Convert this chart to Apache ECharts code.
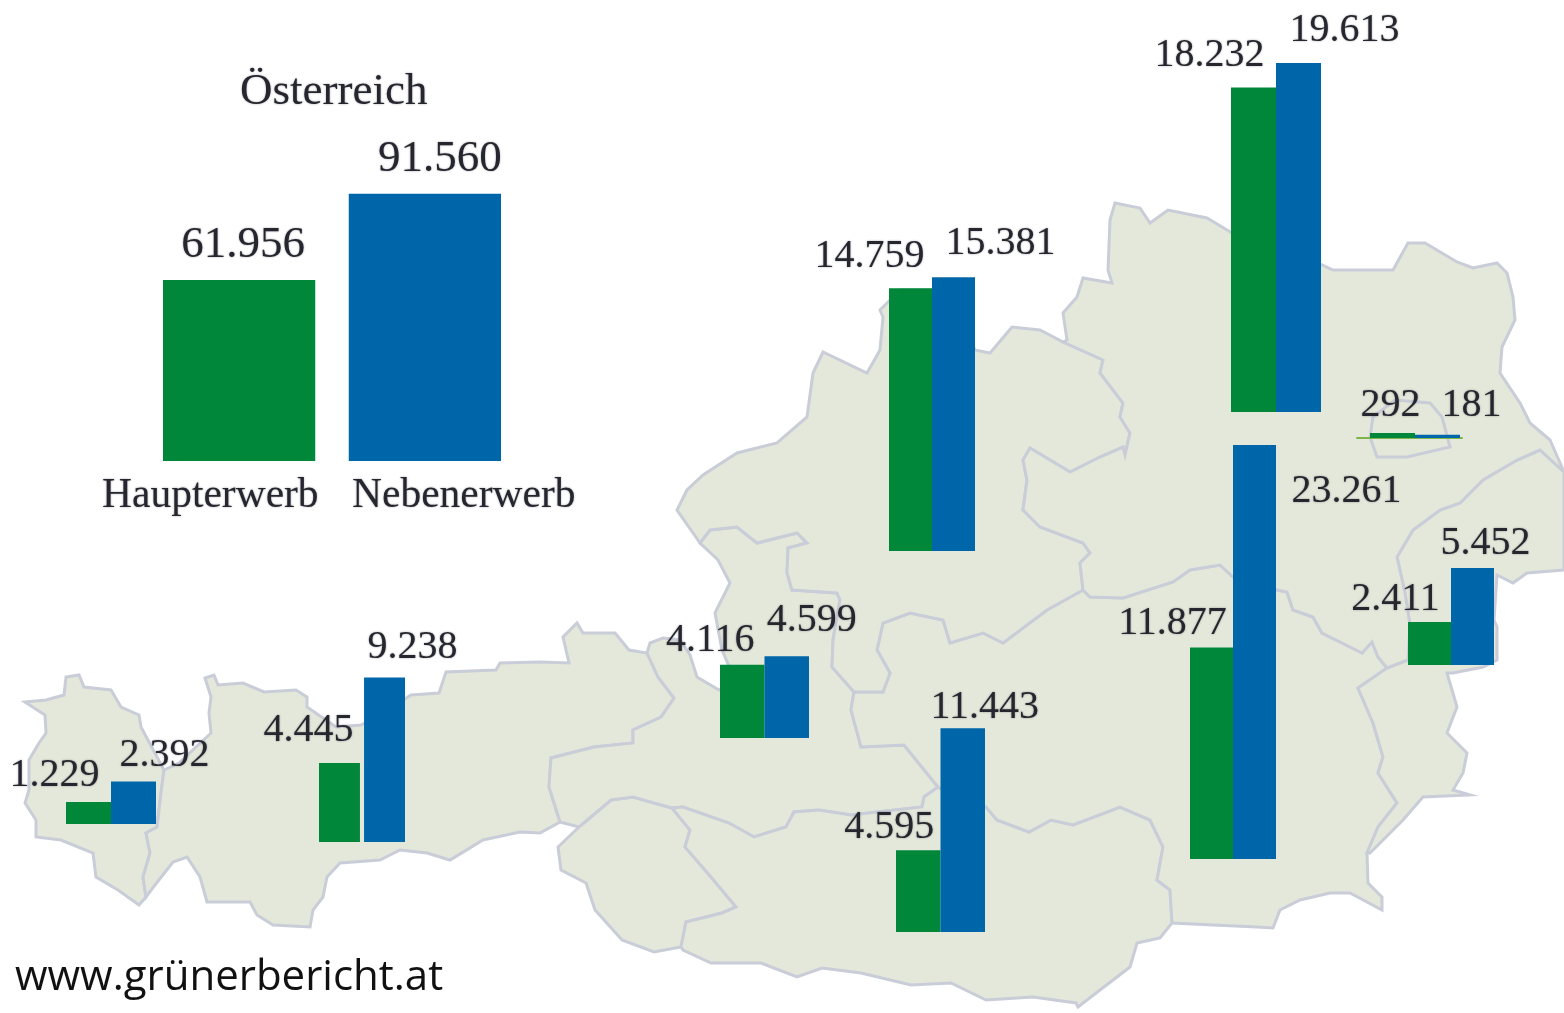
<!DOCTYPE html>
<html><head><meta charset="utf-8">
<style>html,body{margin:0;padding:0;background:#fff}#c{width:1564px;height:1013px}</style>
<script src="https://cdn.jsdelivr.net/npm/echarts@6/dist/echarts.min.js"></script>
</head><body><div id="c"></div>
<script>
// ---- data ----
const regions = ['Österreich','Vorarlberg','Tirol','Salzburg','Kärnten','Steiermark','Burgenland','Oberösterreich','Niederösterreich','Wien'];
const haupterwerb = [61956,1229,4445,4116,4595,11877,2411,14759,18232,292];
const nebenerwerb = [91560,2392,9238,4599,11443,23261,5452,15381,19613,181];
const seriesNames = ['Haupterwerb','Nebenerwerb'];
const sourceText = 'www.grünerbericht.at';
// ---- layout (pixels of each small bar panel) ----
const panelLeft  = [163,66,319,720,896,1190,1408,889,1231,1370];
const panelWidth = [338,90,86,89,89,86,86,86,90,90];
const panelBase  = [461,824,842,738,932,859,665,551,412,438];
const panelGap   = ['22%','0%','10%','0%','0%','0%','0%','0%','0%','0%'];
const axisMax    = [100000,25000,25000,25000,25000,25000,25000,25000,20000,25000];
const axisPx     = [292,445,445,445,445,445,445,445,356,445];
// label offset from the top-centre of each bar: [dx, gap between bar top and digit centre]
const labelG = [[4,35],[-34,27],[-31,32],[-32,24],[-29,23],[-39,24],[-34,23],[-41,32],[-44,32],[-2,27]];
const labelB = [[15,34],[31,26],[28,30],[25,36],[22,21],[92,-47],[13,24],[47,34],[46,32],[34,29]];
// map regions, in picture units
const mapShapes = {
 Vorarlberg:[[[25,702],[46,700],[64,695],[66,677],[79,675],[84,687],[111,690],[121,707],[139,715],[141,727],[164,770],[161,793],[157,827],[146,833],[150,853],[143,877],[146,897],[139,905],[118,890],[96,877],[93,853],[61,840],[36,837],[36,820],[25,803],[29,790],[29,760],[39,743],[46,733],[45,715]]],
 Tirol:[[[164,770],[179,763],[211,733],[209,713],[211,697],[205,678],[214,675],[218,685],[243,683],[264,692],[296,690],[307,697],[307,707],[336,727],[361,725],[380,715],[411,695],[439,693],[446,672],[496,670],[500,663],[540,662],[569,663],[563,637],[577,623],[583,633],[615,633],[629,650],[647,653],[658,677],[674,698],[661,717],[633,730],[633,743],[594,747],[551,758],[549,787],[560,822],[540,833],[520,832],[483,840],[450,860],[427,853],[400,850],[380,860],[340,863],[327,877],[323,897],[313,910],[310,927],[273,925],[257,915],[250,902],[207,902],[200,877],[187,857],[173,862],[155,885],[146,897],[143,877],[150,853],[146,833],[157,827],[161,793]],
        [[558,847],[579,827],[611,800],[633,797],[672,808],[690,830],[685,847],[711,877],[736,907],[722,913],[686,922],[681,947],[654,952],[622,940],[595,910],[586,883],[561,870]]],
 Salzburg:[[[647,653],[650,643],[663,638],[680,640],[690,655],[697,677],[719,690],[735,680],[722,650],[715,613],[730,583],[718,560],[700,543],[710,530],[737,527],[757,543],[797,533],[807,543],[788,548],[787,573],[792,590],[837,593],[840,600],[833,640],[832,667],[854,692],[851,710],[861,747],[904,745],[938,787],[924,797],[922,807],[851,815],[819,810],[794,812],[786,827],[754,837],[729,823],[683,807],[672,808],[633,797],[611,800],[579,827],[560,822],[549,787],[551,758],[594,747],[633,743],[633,730],[661,717],[674,698],[658,677]]],
 Kaernten:[[[672,808],[683,807],[729,823],[754,837],[786,827],[794,812],[819,810],[851,815],[922,807],[924,797],[938,787],[960,800],[986,807],[997,820],[1029,832],[1051,820],[1073,825],[1120,807],[1150,820],[1163,847],[1157,880],[1170,890],[1172,923],[1160,938],[1137,943],[1130,967],[1100,990],[1078,1007],[1076,1003],[1033,997],[986,1000],[951,983],[911,985],[861,973],[822,968],[797,977],[761,963],[711,963],[683,950],[681,947],[686,922],[722,913],[736,907],[711,877],[685,847],[690,830]]],
 Steiermark:[[[938,787],[904,745],[861,747],[851,710],[854,692],[883,692],[890,673],[877,650],[883,623],[910,613],[943,620],[950,643],[983,633],[1003,643],[1047,610],[1083,590],[1090,597],[1123,598],[1173,582],[1190,570],[1220,565],[1233,577],[1277,590],[1287,592],[1293,610],[1313,617],[1322,633],[1350,647],[1362,653],[1372,642],[1378,657],[1387,668],[1358,688],[1373,723],[1383,757],[1378,773],[1397,803],[1378,827],[1367,853],[1368,883],[1382,897],[1382,910],[1350,893],[1330,893],[1300,900],[1280,910],[1273,928],[1257,927],[1213,925],[1172,923],[1170,890],[1157,880],[1163,847],[1150,820],[1120,807],[1073,825],[1051,820],[1029,832],[997,820],[986,807],[960,800]]],
 Burgenland:[[[1387,668],[1408,660],[1410,625],[1405,593],[1397,557],[1413,530],[1440,510],[1460,503],[1483,480],[1517,460],[1540,450],[1564,472],[1564,570],[1527,573],[1513,583],[1497,575],[1494,620],[1497,627],[1497,660],[1483,667],[1453,673],[1447,673],[1457,707],[1447,733],[1467,753],[1463,773],[1453,790],[1470,795],[1423,797],[1403,820],[1370,853],[1367,853],[1378,827],[1397,803],[1378,773],[1383,757],[1373,723],[1358,688]]],
 Oberoesterreich:[[[700,543],[677,510],[687,490],[703,475],[737,453],[777,443],[807,417],[813,373],[823,352],[867,373],[880,350],[883,317],[880,310],[900,290],[950,290],[975,350],[990,353],[1012,327],[1040,330],[1063,342],[1103,360],[1100,373],[1123,403],[1120,417],[1130,433],[1125,455],[1123,447],[1100,457],[1070,472],[1050,460],[1030,448],[1023,460],[1027,480],[1023,510],[1040,527],[1083,543],[1090,553],[1080,563],[1083,590],[1047,610],[1003,643],[983,633],[950,643],[943,620],[910,613],[883,623],[877,650],[890,673],[883,692],[854,692],[832,667],[833,640],[840,600],[837,593],[792,590],[787,573],[788,548],[807,543],[797,533],[757,543],[737,527],[710,530]]],
 Niederoesterreich:[[[1063,342],[1067,340],[1063,313],[1077,297],[1083,278],[1112,283],[1108,270],[1110,220],[1115,203],[1140,208],[1150,223],[1168,210],[1207,218],[1232,233],[1280,250],[1322,265],[1333,270],[1393,270],[1408,243],[1425,243],[1457,262],[1473,268],[1497,263],[1507,273],[1513,297],[1515,320],[1502,347],[1500,373],[1520,403],[1530,423],[1550,440],[1564,472],[1540,450],[1517,460],[1483,480],[1460,503],[1440,510],[1413,530],[1397,557],[1405,593],[1410,625],[1408,660],[1387,668],[1378,657],[1372,642],[1362,653],[1350,647],[1322,633],[1313,617],[1293,610],[1287,592],[1277,590],[1233,577],[1220,565],[1190,570],[1173,582],[1123,598],[1090,597],[1083,590],[1080,563],[1090,553],[1083,543],[1040,527],[1023,510],[1027,480],[1023,460],[1030,448],[1050,460],[1070,472],[1100,457],[1123,447],[1125,455],[1130,433],[1120,417],[1123,403],[1100,373],[1103,360]]],
 Wien:[[[1373,417],[1395,400],[1430,403],[1442,417],[1450,447],[1407,457],[1377,457],[1370,437]]]
};
// ---- styles ----
const GREEN='#00873a', BLUE='#0066aa', LAND='#e3e8da', EDGE='#c9cdd8', TEXT='#26262e';
const SERIF='"Liberation Serif", serif';
const fmt = v => String(v).replace(/\B(?=(\d{3})+(?!\d))/g,'.');

const chart = echarts.init(document.getElementById('c'),null,{renderer:'canvas'});
echarts.registerMap('at',{type:'FeatureCollection',features:Object.keys(mapShapes).map(k=>({
  type:'Feature',properties:{name:k},
  geometry:{type:'MultiPolygon',coordinates:mapShapes[k].map(r=>[r.map(p=>[p[0],-p[1]])])}
}))});

const grids=[],xAxes=[],yAxes=[],series=[];
regions.forEach((r,i)=>{
  const fs = i===0?45:40;
  grids.push({left:panelLeft[i],width:panelWidth[i],top:panelBase[i]-axisPx[i],height:axisPx[i],containLabel:false});
  xAxes.push({type:'category',gridIndex:i,data:[r],show:false});
  yAxes.push({type:'value',gridIndex:i,min:0,max:axisMax[i],show:false});
  [[haupterwerb,GREEN,labelG,0],[nebenerwerb,BLUE,labelB,1]].forEach(([vals,col,lab,k])=>{
    series.push({type:'bar',name:seriesNames[k],xAxisIndex:i,yAxisIndex:i,data:[vals[i]],
      barGap:panelGap[i],barCategoryGap:'0%',itemStyle:{color:col},silent:true,z:3,
      label:{show:true,position:'top',distance:0,offset:[lab[i][0],fs/2-lab[i][1]],
        formatter:p=>fmt(p.value),fontFamily:SERIF,fontSize:fs,color:TEXT,
        textShadowColor:'rgba(40,40,60,.45)',textShadowBlur:2}});
  });
});
// thin base line under the Wien pair
grids.push({left:1357,width:105,top:437,height:1});
xAxes.push({type:'category',gridIndex:regions.length,data:[''],z:2,axisTick:{show:false},axisLabel:{show:false},axisLine:{show:true,onZero:false,lineStyle:{color:'#7db54a',width:2}}});
yAxes.push({type:'value',gridIndex:regions.length,min:0,max:1,show:false});

const txt=(text,left,top,font,size,color,shadow)=>({text,left,top,padding:0,textStyle:{fontFamily:font,fontSize:size,fontWeight:'normal',color,
  textShadowColor:shadow?'rgba(40,40,60,.45)':'transparent',textShadowBlur:shadow?2:0}});

chart.setOption({
  animation:false,backgroundColor:'#fff',
  title:[
    txt(regions[0],240,70,SERIF,45,TEXT,true),
    txt(seriesNames[0],102,475,SERIF,41.5,TEXT,true),
    txt(seriesNames[1],352,475,SERIF,41.5,TEXT,true),
    txt(sourceText,15,957,'"Open Sans", sans-serif',42,'#111',false)
  ],
  geo:{map:'at',roam:false,silent:true,left:0,top:0,width:1564,height:1013,aspectScale:1,
    boundingCoords:[[0,0],[1564,-1013]],
    label:{show:false},
    itemStyle:{areaColor:LAND,borderColor:EDGE,borderWidth:3},z:1},
  grid:grids,xAxis:xAxes,yAxis:yAxes,series
});
</script></body></html>
